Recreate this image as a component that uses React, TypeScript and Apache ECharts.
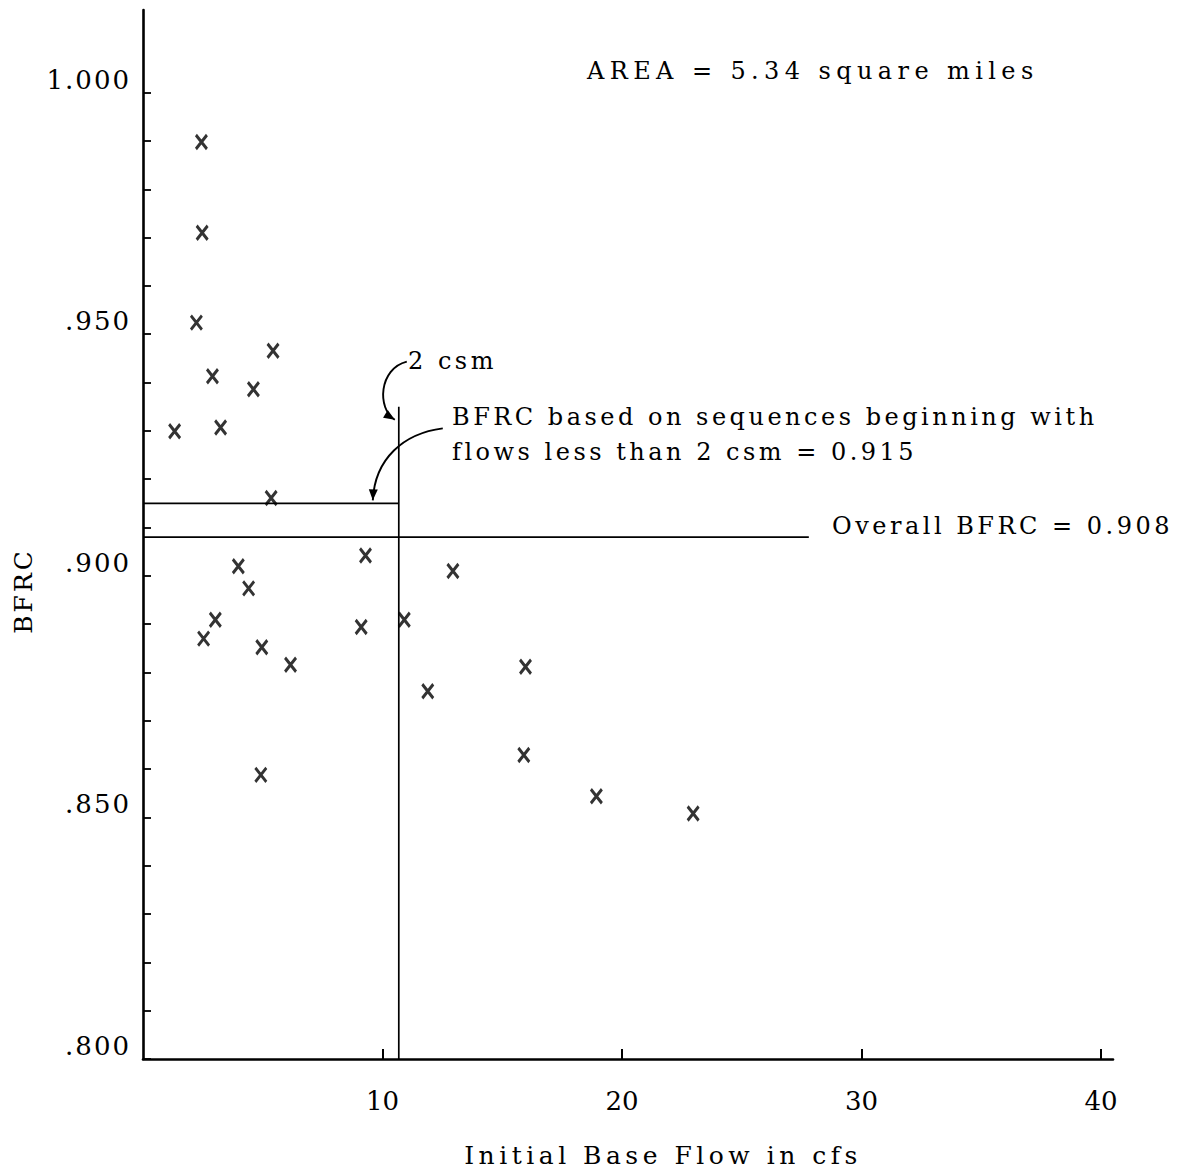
import React, { useEffect, useRef } from 'react';
import * as echarts from 'echarts';

// Data points: initial base flow (cfs) and BFRC
const flowCfs = [2.44, 2.47, 2.23, 5.43, 2.9, 4.61, 1.32, 3.24, 5.35, 9.29, 3.98, 4.41, 12.94, 3.02, 2.53, 10.91, 9.11, 4.96, 6.16, 15.97, 11.89, 4.92, 15.9, 18.93, 22.97];
const bfrcValues = [0.9898, 0.971, 0.9524, 0.9466, 0.9413, 0.9386, 0.9299, 0.9307, 0.9161, 0.9042, 0.902, 0.8974, 0.901, 0.8909, 0.887, 0.8909, 0.8894, 0.8852, 0.8816, 0.8812, 0.8761, 0.8588, 0.8629, 0.8544, 0.8508];

// Reference values
const areaSqMi = 5.34;
const twoCsmCfs = 2 * areaSqMi; // 10.68 cfs
const bfrcLowFlows = 0.915;
const bfrcOverall = 0.908;
const overallLineEnd = 27.8;
const twoCsmLineTop = 0.935;

// Axis ticks and labels
const xTickValues = [10, 20, 30, 40];
const xTickLabels = ['10', '20', '30', '40'];
const yTickValues = [0.8, 0.81, 0.82, 0.83, 0.84, 0.85, 0.86, 0.87, 0.88, 0.89, 0.9, 0.91, 0.92, 0.93, 0.94, 0.95, 0.96, 0.97, 0.98, 0.99, 1.0];
const yLabelValues = [0.8, 0.85, 0.9, 0.95, 1.0];
const yTickLabels = ['.800', '.850', '.900', '.950', '1.000'];

// Text
const areaText = 'AREA = 5.34 square miles';
const csmText = '2 csm';
const lowText1 = 'BFRC based on sequences beginning with';
const lowText2 = 'flows less than 2 csm = 0.915';
const overallText = 'Overall BFRC = 0.908';
const xName = 'Initial Base Flow in cfs';
const yName = 'BFRC';

const FONT = "'DejaVu Serif', serif";

function arrowHead(tipX: number, tipY: number, fromX: number, fromY: number, len = 11, half = 4.5) {
  const dx = tipX - fromX;
  const dy = tipY - fromY;
  const d = Math.hypot(dx, dy) || 1;
  const ux = dx / d;
  const uy = dy / d;
  const bx = tipX - ux * len;
  const by = tipY - uy * len;
  return {
    type: 'polygon',
    silent: true,
    shape: { points: [[tipX, tipY], [bx - uy * half, by + ux * half], [bx + uy * half, by - ux * half]] },
    style: { fill: '#000' },
  };
}

export default function App() {
  const ref = useRef<HTMLDivElement>(null);
  useEffect(() => {
    const el = ref.current!;
    const chart = echarts.init(el, null, { renderer: 'svg' });
    const blackLine = { color: '#000', width: 1.7 };
    chart.setOption({
      animation: false,
      backgroundColor: '#fff',
      grid: { left: 143, top: 10, right: 76, bottom: 112, containLabel: false, outerBoundsMode: 'none' },
      xAxis: {
        type: 'value',
        min: 0,
        max: 40.5,
        splitLine: { show: false },
        axisLine: { show: true, onZero: false, lineStyle: { color: '#000', width: 2.6 } },
        axisTick: { show: true, inside: true, length: 10, customValues: xTickValues, lineStyle: { color: '#000', width: 2 } },
        axisLabel: {
          customValues: xTickValues,
          formatter: (v: number) => xTickLabels[xTickValues.findIndex((u) => Math.abs(u - v) < 1e-6)] ?? '',
          color: '#000',
          fontFamily: FONT,
          fontSize: 26,
          margin: 29,
        },
        name: xName,
        nameLocation: 'middle',
        nameGap: 84,
        nameTextStyle: { color: '#000', fontFamily: FONT, fontSize: 25, padding: [0, 0, 0, 70] },
      },
      yAxis: {
        type: 'value',
        min: 0.8,
        max: 1.0171,
        splitLine: { show: false },
        axisLine: { show: true, onZero: false, lineStyle: { color: '#000', width: 2.6 } },
        axisTick: { show: true, inside: true, length: 8, customValues: yTickValues, lineStyle: { color: '#000', width: 1.8 } },
        axisLabel: {
          customValues: yLabelValues,
          formatter: (v: number) => yTickLabels[yLabelValues.findIndex((u) => Math.abs(u - v) < 1e-6)] ?? '',
          color: '#000',
          fontFamily: FONT,
          fontSize: 26,
          margin: 12,
          verticalAlign: 'bottom',
        },
      },
      series: [
        {
          type: 'scatter',
          data: flowCfs.map((x, i) => [x, bfrcValues[i]]),
          symbol: 'path://M0,0L10,14M10,0L0,14',
          symbolSize: [11, 14],
          itemStyle: { color: 'none', borderColor: '#000', borderWidth: 3.1 },
          silent: true,
        },
        {
          type: 'line',
          data: [[0, bfrcLowFlows], [twoCsmCfs, bfrcLowFlows]],
          symbol: 'none',
          lineStyle: blackLine,
          silent: true,
        },
        {
          type: 'line',
          data: [[0, bfrcOverall], [overallLineEnd, bfrcOverall]],
          symbol: 'none',
          lineStyle: blackLine,
          silent: true,
        },
        {
          type: 'line',
          data: [[twoCsmCfs, 0.8], [twoCsmCfs, twoCsmLineTop]],
          symbol: 'none',
          lineStyle: blackLine,
          silent: true,
        },
      ],
    });

    const [vx, vTop] = chart.convertToPixel({ gridIndex: 0 }, [twoCsmCfs, twoCsmLineTop]) as number[];
    const [, yLow] = chart.convertToPixel({ gridIndex: 0 }, [0, bfrcLowFlows]) as number[];

    // arrow 1: "2 csm" -> top of vertical line
    const a1 = { x1: vx + 8, y1: vTop - 45, cpx1: vx - 20, cpy1: vTop - 38, cpx2: vx - 22, cpy2: vTop + 2, x2: vx - 4, y2: vTop + 13 };
    // arrow 2: text -> 0.915 line
    const a2 = { x1: vx + 44, y1: yLow - 75, cpx1: vx + 5, cpy1: yLow - 70, cpx2: vx - 24, cpy2: yLow - 45, x2: vx - 26, y2: yLow - 3 };

    const textStyle = (text: string, size = 24) => ({ text, fill: '#000', font: `${size}px ${FONT}` });

    chart.setOption({
      graphic: [
        { type: 'bezierCurve', silent: true, shape: a1, style: { stroke: '#000', lineWidth: 1.9, fill: null } },
        arrowHead(a1.x2, a1.y2, a1.cpx2, a1.cpy2),
        { type: 'bezierCurve', silent: true, shape: a2, style: { stroke: '#000', lineWidth: 1.9, fill: null } },
        arrowHead(a2.x2, a2.y2, a2.cpx2, a2.cpy2),
        { type: 'text', silent: true, x: 587, y: 71, style: { ...textStyle(areaText, 24), verticalAlign: 'middle' } },
        { type: 'text', silent: true, x: 408, y: 361, style: { ...textStyle(csmText), verticalAlign: 'middle' } },
        { type: 'text', silent: true, x: 452, y: 417, style: { ...textStyle(lowText1), verticalAlign: 'middle' } },
        { type: 'text', silent: true, x: 452, y: 452, style: { ...textStyle(lowText2), verticalAlign: 'middle' } },
        { type: 'text', silent: true, x: 832, y: 526, style: { ...textStyle(overallText), verticalAlign: 'middle' } },
        {
          type: 'text', silent: true, x: 23, y: 591, rotation: Math.PI / 2,
          style: { ...textStyle(yName, 25), align: 'center', verticalAlign: 'middle' },
        },
      ],
    });

    const spaced: Record<string, string> = {
      [areaText]: '5.4px',
      [csmText]: '3.5px',
      [lowText1]: '3.5px',
      [lowText2]: '3.5px',
      [overallText]: '3.5px',
      [yName]: '3px',
      [xName]: '4.5px',
      '.800': '2px',
      '.850': '2px',
      '.900': '2px',
      '.950': '2px',
      '1.000': '2px',
    };
    const applySpacing = () => {
      el.querySelectorAll('text').forEach((t) => {
        const s = spaced[t.textContent || ''];
        if (s) (t as SVGTextElement).style.letterSpacing = s;
      });
    };
    applySpacing();
    const timer = setTimeout(applySpacing, 30);
    chart.on('finished', applySpacing);

    return () => {
      clearTimeout(timer);
      chart.dispose();
    };
  }, []);
  return <div ref={ref} style={{ position: 'absolute', left: 0, top: 0, width: 1189, height: 1171, background: '#fff' }} />;
}
